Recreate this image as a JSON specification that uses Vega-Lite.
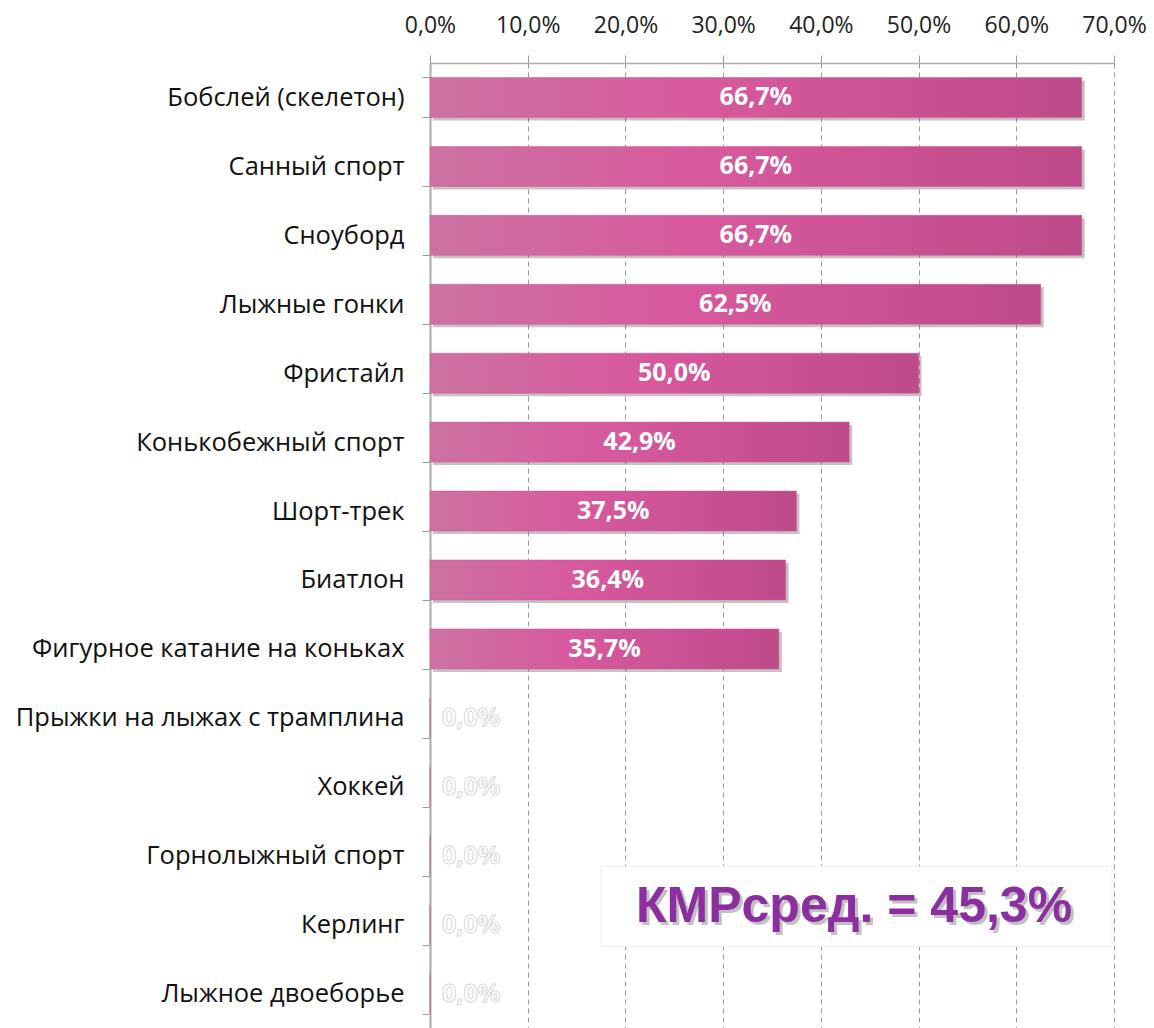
{
  "$schema": "https://vega.github.io/schema/vega-lite/v6.json",
  "autosize": "none",
  "width": 684,
  "height": 965,
  "padding": {"left": 430, "top": 63, "right": 40, "bottom": 0},
  "background": "white",
  "config": {
    "locale": {"number": {"decimal": ",", "thousands": " ", "grouping": [3], "currency": ["", " ₽"]}},
    "view": {"stroke": null},
    "font": "Open Sans"
  },
  "data": {
    "values": [
      {"sport": "Бобслей (скелетон)", "value": 0.667},
      {"sport": "Санный спорт", "value": 0.667},
      {"sport": "Сноуборд", "value": 0.667},
      {"sport": "Лыжные гонки", "value": 0.625},
      {"sport": "Фристайл", "value": 0.5},
      {"sport": "Конькобежный спорт", "value": 0.429},
      {"sport": "Шорт-трек", "value": 0.375},
      {"sport": "Биатлон", "value": 0.364},
      {"sport": "Фигурное катание на коньках", "value": 0.357},
      {"sport": "Прыжки на лыжах с трамплина", "value": 0},
      {"sport": "Хоккей", "value": 0},
      {"sport": "Горнолыжный спорт", "value": 0},
      {"sport": "Керлинг", "value": 0},
      {"sport": "Лыжное двоеборье", "value": 0}
    ]
  },
  "encoding": {
    "y": {
      "field": "sport", "type": "nominal", "sort": null,
      "scale": {"paddingInner": 0.42, "paddingOuter": 0.21},
      "axis": {
        "title": null, "labelFontSize": 25.5, "labelColor": "#111", "labelFont": "Open Sans",
        "labelPadding": 18, "tickBand": "extent", "tickSize": 8, "tickColor": "#999",
        "domainColor": "#aaa", "domainWidth": 2, "labelLimit": 600
      }
    }
  },
  "layer": [
    {
      "mark": {"type": "bar", "color": "#6a4a5a", "opacity": 0.35, "xOffset": 3, "yOffset": 3},
      "encoding": {
        "x": {
          "field": "value", "type": "quantitative",
          "scale": {"domain": [0, 0.7], "nice": false},
          "axis": {
            "orient": "top", "format": ".1%", "values": [0, 0.1, 0.2, 0.3, 0.4, 0.5, 0.6, 0.7],
            "title": null, "labelFontSize": 23, "labelColor": "#222", "labelPadding": 18,
            "labelOverlap": false, "labelFlush": false,
            "grid": true, "gridDash": [5, 4], "gridColor": "#999", "gridWidth": 1,
            "domainColor": "#aaa", "domainWidth": 1.5, "tickColor": "#999", "tickSize": 8
          }
        }
      }
    },
    {
      "mark": {
        "type": "bar",
        "color": {
          "gradient": "linear", "x1": 0, "y1": 0, "x2": 1, "y2": 0,
          "stops": [
            {"offset": 0, "color": "#CC72A2"},
            {"offset": 0.4, "color": "#D85A9E"},
            {"offset": 1, "color": "#BE4A8A"}
          ]
        },
        "stroke": "#C25B93", "strokeWidth": 0.5
      },
      "encoding": {"x": {"field": "value", "type": "quantitative"}}
    },
    {
      "transform": [{"filter": "datum.value > 0"}, {"calculate": "datum.value / 2", "as": "mid"}],
      "mark": {"type": "text", "color": "white", "fontSize": 25, "fontWeight": "bold", "font": "Open Sans"},
      "encoding": {
        "x": {"field": "mid", "type": "quantitative"},
        "text": {"field": "value", "type": "quantitative", "format": ".1%"}
      }
    },
    {
      "transform": [{"filter": "datum.value == 0"}],
      "mark": {"type": "text", "color": "white", "stroke": "#d8d8d8", "strokeWidth": 1, "fontSize": 25, "fontWeight": "bold", "align": "left", "dx": 12, "font": "Open Sans"},
      "encoding": {
        "x": {"datum": 0},
        "text": {"field": "value", "type": "quantitative", "format": ".1%"}
      }
    },
    {
      "transform": [{"filter": "datum.sport == 'Керлинг'"}],
      "mark": {"type": "bar", "fill": "white", "stroke": "#eeeeee", "strokeWidth": 1, "height": 80, "yOffset": -18, "opacity": 1},
      "encoding": {"x": {"datum": 0.175}, "x2": {"datum": 0.698}}
    },
    {
      "transform": [{"filter": "datum.sport == 'Керлинг'"}],
      "mark": {"type": "text", "color": "#999", "opacity": 0.6, "fontSize": 50, "fontWeight": "bold", "font": "Liberation Sans", "dx": 3, "dy": -15},
      "encoding": {"x": {"datum": 0.434}, "text": {"value": "КМРсред. = 45,3%"}}
    },
    {
      "transform": [{"filter": "datum.sport == 'Керлинг'"}],
      "mark": {"type": "text", "color": "#8B2E9F", "fontSize": 50, "fontWeight": "bold", "font": "Liberation Sans", "dy": -18},
      "encoding": {"x": {"datum": 0.434}, "text": {"value": "КМРсред. = 45,3%"}}
    }
  ]
}
